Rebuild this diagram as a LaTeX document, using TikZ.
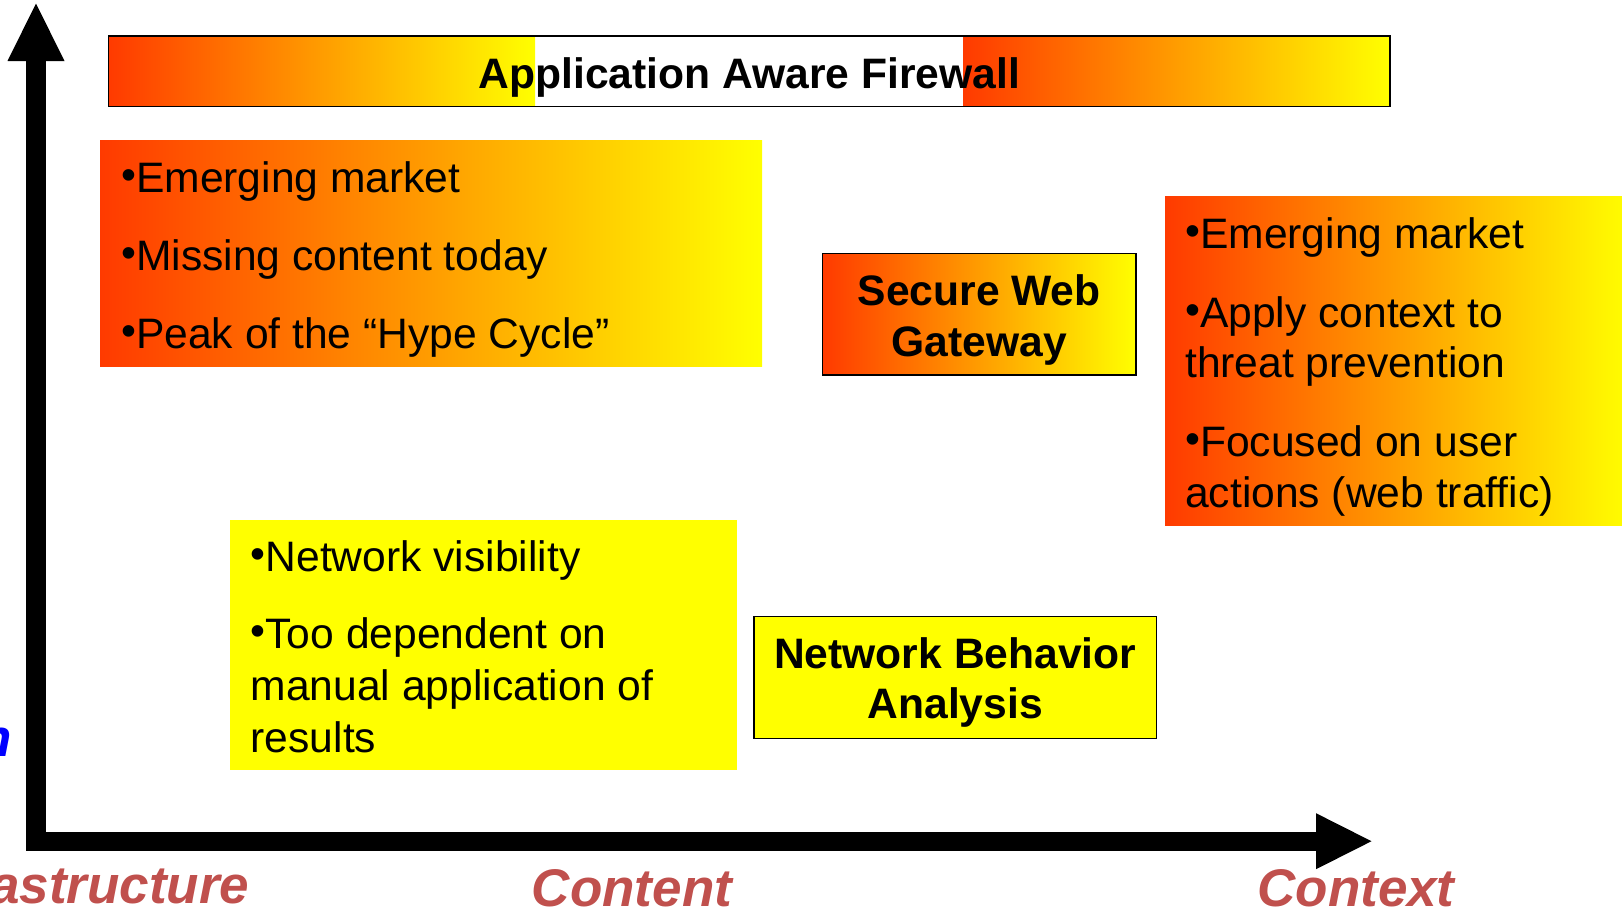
\documentclass[tikz,border=0pt]{standalone}
\usepackage{fontspec}
\setmainfont{Liberation Sans}
\usetikzlibrary{calc}

\definecolor{firered}{RGB}{255,58,0}
\definecolor{hotyellow}{RGB}{255,255,0}
\definecolor{axisred}{RGB}{192,80,77}
\definecolor{axisblue}{RGB}{0,0,255}

% strut that fixes the top of a text block 35pt above its first baseline
\newcommand\capstrut{\rule{0pt}{35pt}}
% small raised bullet used in the lists
\newcommand\bul{\raisebox{3pt}{•}}

\begin{document}
\begin{tikzpicture}[x=1pt,y=-1pt,
  box/.style={rectangle, inner sep=0pt, outer sep=0pt, anchor=north west},
  firebox/.style={box, left color=firered, right color=hotyellow},
  yellowbox/.style={box, fill=hotyellow},
  frame/.style={draw=black, line width=1.2pt},
  body/.style={inner sep=0pt, anchor=north west, align=left,
    font=\fontsize{42.6}{50.5}\selectfont},
  title/.style={inner sep=0pt, align=center,
    font=\fontsize{42.6}{50}\selectfont\bfseries},
  axislabel/.style={inner sep=0pt, anchor=base,
    font=\fontsize{53}{60}\selectfont\bfseries\itshape, text=axisred},
  axisline/.style={line width=19.4pt, line join=miter},
]
\useasboundingbox (0,0) rectangle (1622,913);
\clip (0,0) rectangle (1622,913);

% ---- axes -------------------------------------------------------------
\coordinate (O) at (36,841.2);
\coordinate (ytip) at (36,3.5);
\coordinate (xtip) at (1371.5,841.2);
\draw[axisline] ($(ytip)+(0,56)$) -- (O) -- ($(xtip)+(-54,0)$);
\fill (ytip) -- ++(-28.5,57.5) -- ++(57,0) -- cycle;
\fill (xtip) -- ++(-55.5,-28) -- ++(0,56) -- cycle;

% ---- firewall bar across the top ---------------------------------------
\node[firebox, minimum width=426.5pt, minimum height=70.5pt] (fwl) at (108.5,36) {};
\node[firebox, minimum width=427pt, minimum height=70.5pt] (fwr) at (963,36) {};
\node[box, frame, minimum width=1281.5pt, minimum height=70.5pt] (fw) at (108.5,36) {};
\node[title, anchor=base] (fwtext) at (749.25,88.3) {Application Aware Firewall};

% ---- upper left: hype box ----------------------------------------------
\node[firebox, minimum width=662pt, minimum height=226pt] (hype) at (100,140.5) {};
\node[body] (hypetext) at (121,157.7)
  {\capstrut\bul Emerging market\\[27.5pt]\bul Missing content today\\[27.5pt]\bul Peak of the “Hype Cycle”};

% ---- secure web gateway ------------------------------------------------
\node[firebox, frame, minimum width=313.7pt, minimum height=121.7pt] (swg) at (822.3,253.3) {};
\node[title, anchor=north, font=\fontsize{42.6}{51}\selectfont\bfseries] (swgtext) at (979.15,270)
  {\capstrut Secure Web\\Gateway};

% ---- right: context box ------------------------------------------------
\node[firebox, minimum width=465pt, minimum height=329.5pt] (ctx) at (1165,196) {};
\node[body, font=\fontsize{42.6}{50.5}\selectfont] (ctxtext) at (1185,213.3)
  {\capstrut\bul Emerging market\\[28.4pt]\bul Apply context to\\threat prevention\\[28.4pt]\bul Focused on user\\actions (web traffic)};

% ---- lower left: visibility box ----------------------------------------
\node[yellowbox, minimum width=507pt, minimum height=249.6pt] (vis) at (229.6,520) {};
\node[body, font=\fontsize{42.6}{52}\selectfont] (vistext) at (250.5,536.7)
  {\capstrut\bul Network visibility\\[24.5pt]\bul Too dependent on\\manual application of\\results};

% ---- network behavior analysis -----------------------------------------
\node[yellowbox, frame, minimum width=402.5pt, minimum height=122pt] (nba) at (754,616.5) {};
\node[title, anchor=north] (nbatext) at (955.25,633.3) {\capstrut Network Behavior\\Analysis};

% ---- axis labels -------------------------------------------------------
\node[axislabel, anchor=base east] (infra) at (249.5,903) {astructure};
\node[axislabel] (content) at (632,906.5) {Content};
\node[axislabel] (context) at (1356,906.5) {Context};
\node[axislabel, anchor=base east, text=axisblue] (ylabel) at (11.7,756) {n};
\end{tikzpicture}
\end{document}
